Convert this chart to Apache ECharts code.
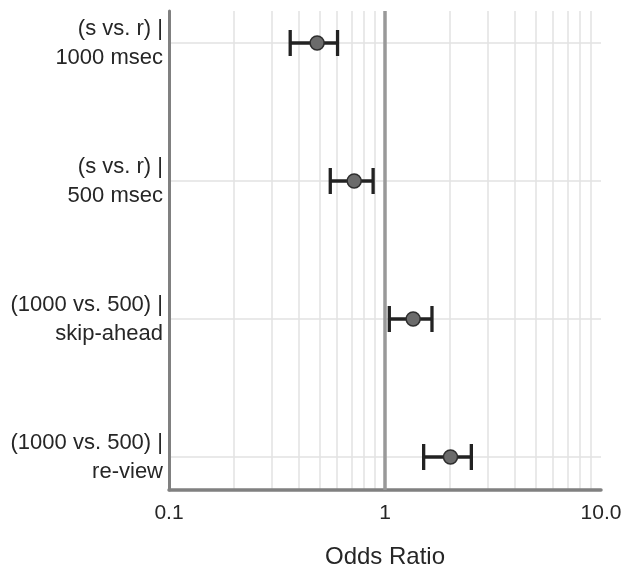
<!DOCTYPE html>
<html>
<head>
<meta charset="utf-8">
<script src="https://cdn.jsdelivr.net/npm/echarts@6/dist/echarts.min.js"></script>
<style>
  html, body { margin: 0; padding: 0; background: #fff; }
  #chart { width: 621px; height: 570px; }
</style>
</head>
<body>
<div id="chart"></div>
<script>
// ---- Data ----
const categories = [
  '(s vs. r) |\n1000 msec',
  '(s vs. r) |\n500 msec',
  '(1000 vs. 500) |\nskip-ahead',
  '(1000 vs. 500) |\nre-view'
];
const oddsRatio = [0.485, 0.72, 1.35, 2.01];
const ciLower = [0.364, 0.558, 1.047, 1.51];
const ciUpper = [0.603, 0.881, 1.65, 2.51];
const minorGrid = [0.2, 0.3, 0.4, 0.5, 0.6, 0.7, 0.8, 0.9, 2, 3, 4, 5, 6, 7, 8, 9];
const referenceLine = 1;
const xMin = 0.1, xMax = 10;

const FONT = 'Liberation Sans, Arial, Helvetica, sans-serif';
const TEXT = '#262626';

const chart = echarts.init(document.getElementById('chart'), null, { renderer: 'canvas' });

const barData = categories.map((c, i) => [ciLower[i], ciUpper[i], i]);
const pointData = categories.map((c, i) => [oddsRatio[i], i]);

const option = {
  backgroundColor: '#fff',
  animation: false,
  grid: [
    { left: 169, right: 20, top: 11, bottom: 80, containLabel: false, outerBoundsMode: 'none' },
    { left: 169, right: 20, top: 43, bottom: 113, containLabel: false, outerBoundsMode: 'none' }
  ],
  xAxis: [
    {
      type: 'log', logBase: 10, min: xMin, max: xMax, gridIndex: 0,
      axisLine: { show: true, lineStyle: { color: '#808080', width: 3.5 } },
      axisTick: { show: false },
      splitLine: { show: false },
      axisLabel: {
        fontFamily: FONT, fontSize: 21, color: TEXT, margin: 13,
        formatter: v => (v >= 10 ? Number(v).toFixed(1) : String(+Number(v).toPrecision(3)))
      },
      name: 'Odds Ratio', nameLocation: 'middle', nameGap: 55,
      nameTextStyle: { fontFamily: FONT, fontSize: 24, color: TEXT }
    },
    {
      type: 'log', logBase: 10, min: xMin, max: xMax, gridIndex: 1, show: false
    }
  ],
  yAxis: [
    {
      type: 'value', min: 0, max: 1, gridIndex: 0,
      axisLine: { show: true, lineStyle: { color: '#808080', width: 3 } },
      axisTick: { show: false }, axisLabel: { show: false }, splitLine: { show: false }
    },
    {
      type: 'category', data: categories, boundaryGap: false, inverse: true, gridIndex: 1,
      axisLine: { show: false }, axisTick: { show: false },
      splitLine: { show: true, lineStyle: { color: '#e2e2e2', width: 1.5 } },
      axisLabel: { fontFamily: FONT, fontSize: 22, lineHeight: 29, color: TEXT, margin: 6, align: 'right' }
    }
  ],
  series: [
    {
      type: 'scatter', xAxisIndex: 0, yAxisIndex: 0, data: [], z: 0, silent: true,
      markLine: {
        silent: true, symbol: 'none', animation: false, z: 0,
        label: { show: false },
        lineStyle: { color: '#e2e2e2', width: 1.5, type: 'solid' },
        data: minorGrid.map(v => ({ xAxis: v }))
      }
    },
    {
      type: 'scatter', xAxisIndex: 0, yAxisIndex: 0, data: [], z: 1, silent: true,
      markLine: {
        silent: true, symbol: 'none', animation: false, z: 1,
        label: { show: false },
        lineStyle: { color: '#999999', width: 3.5, type: 'solid' },
        data: [{ xAxis: referenceLine }]
      }
    },
    {
      type: 'custom', xAxisIndex: 1, yAxisIndex: 1, z: 10,
      data: barData,
      renderItem: function (params, api) {
        const lo = api.coord([api.value(0), api.value(2)]);
        const hi = api.coord([api.value(1), api.value(2)]);
        const h = 13;
        const style = { stroke: '#222222', lineWidth: 3.3, fill: null };
        return {
          type: 'group',
          children: [
            { type: 'line', shape: { x1: lo[0], y1: lo[1], x2: hi[0], y2: hi[1] }, style },
            { type: 'line', shape: { x1: lo[0], y1: lo[1] - h, x2: lo[0], y2: lo[1] + h }, style },
            { type: 'line', shape: { x1: hi[0], y1: hi[1] - h, x2: hi[0], y2: hi[1] + h }, style }
          ]
        };
      }
    },
    {
      type: 'scatter', xAxisIndex: 1, yAxisIndex: 1, z: 11,
      data: pointData, symbol: 'circle', symbolSize: 14,
      itemStyle: { color: '#6b6b6b', borderColor: '#2e2e2e', borderWidth: 1.5, opacity: 1 }
    }
  ]
};

chart.setOption(option);
</script>
</body>
</html>
